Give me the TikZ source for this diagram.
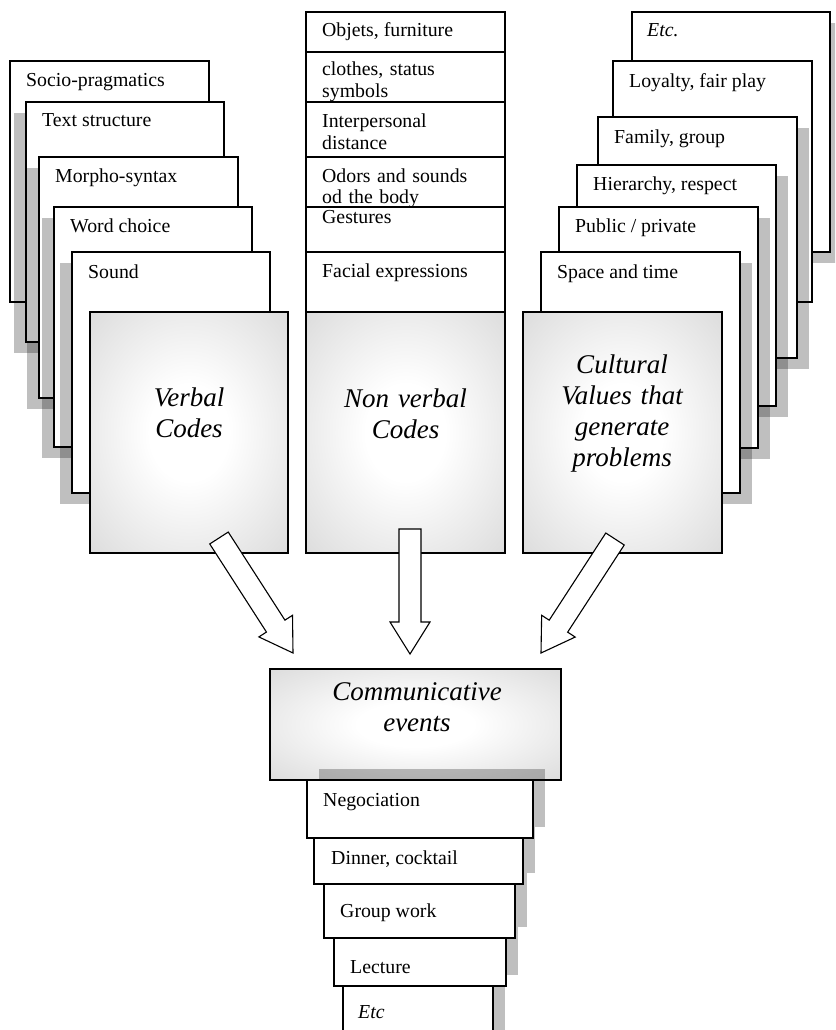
\documentclass[tikz,border=0pt]{standalone}
\usepackage{fontspec}
\setmainfont{Liberation Serif}
\usetikzlibrary{calc,shadows}
\pgfdeclareradialshading{boxglow}{\pgfpoint{0bp}{0bp}}{color(0bp)=(white); color(10bp)=(white); color(40bp)=(black!16); color(50bp)=(black!16)}
\newcommand\mylbl{\fontsize{19.8pt}{21.5pt}\selectfont}
\newcommand\mybig{\fontsize{27pt}{31pt}\selectfont\itshape}
\tikzset{
  sbox/.style={draw, fill=white, line width=1.1pt, inner sep=0pt, outer sep=0pt, anchor=north west},
  glowbox/.style={draw, line width=1.1pt, shading=boxglow, inner sep=0pt, outer sep=0pt, anchor=north west},
  shl/.style={drop shadow={shadow xshift=-12pt, shadow yshift=-11pt, fill=black, opacity=0.25}},
  shr/.style={drop shadow={shadow xshift=12pt, shadow yshift=-11pt, fill=black, opacity=0.25}},
  shu/.style={drop shadow={shadow xshift=12pt, shadow yshift=11pt, fill=black, opacity=0.25}},
  lbl/.style={anchor=base west, inner sep=0pt, font=\mylbl},
  lbl2/.style={anchor=base west, inner sep=0pt, font=\mylbl, text width=185pt, align=left},
  bigl/.style={anchor=base, inner sep=0pt, font=\mybig, text width=260pt, align=center},
  arrowbox/.style={draw, fill=white, line width=1.1pt, line join=miter}
}
\newcommand\blockarrow[2]{%
  \path ($(#2)!32pt!(#1)$) coordinate (#1hb);
  \draw[arrowbox] ($(#1)!11pt!90:(#2)$) -- ($(#1hb)!11pt!90:(#2)$) -- ($(#1hb)!20pt!90:(#2)$) -- (#2) -- ($(#1hb)!20pt!-90:(#2)$) -- ($(#1hb)!11pt!-90:(#2)$) -- ($(#1)!11pt!-90:(#2)$) -- cycle;%
}
\begin{document}
\begin{tikzpicture}[x=1pt,y=-1pt]
\useasboundingbox (0,0) rectangle (835,1030);
\clip (0,0) rectangle (835,1030);

% ---------- left stack ----------
\node[sbox, minimum width=199pt, minimum height=241pt] (L1) at (10,61) {};
\node[lbl] (L1t) at ([xshift=16pt,yshift=-26pt]L1.north west) {Socio-pragmatics};
\node[sbox, shl, minimum width=198pt, minimum height=240pt] (L2) at (26,102) {};
\node[lbl] (L2t) at ([xshift=16pt,yshift=-25pt]L2.north west) {Text structure};
\node[sbox, shl, minimum width=199pt, minimum height=241pt] (L3) at (39,157) {};
\node[lbl] (L3t) at ([xshift=16pt,yshift=-25pt]L3.north west) {Morpho-syntax};
\node[sbox, shl, minimum width=198pt, minimum height=240pt] (L4) at (54,207) {};
\node[lbl] (L4t) at ([xshift=16pt,yshift=-25pt]L4.north west) {Word choice};
\node[sbox, shl, minimum width=198pt, minimum height=241pt] (L5) at (72,252) {};
\node[lbl] (L5t) at ([xshift=16pt,yshift=-26pt]L5.north west) {Sound};
\node[glowbox, minimum width=198pt, minimum height=241pt] (VC) at (90,312) {};
\node[bigl] (VCt) at (189,406) {Verbal\\Codes};

% ---------- middle stack ----------
\node[sbox, minimum width=199pt, minimum height=60pt] (M1) at (306,12) {};
\node[lbl] (M1t) at ([xshift=16pt,yshift=-25pt]M1.north west) {Objets, furniture};
\node[sbox, minimum width=199pt, minimum height=70pt] (M2) at (306,52) {};
\node[lbl2] (M2t) at ([xshift=16pt,yshift=-24pt]M2.north west) {clothes, status\\symbols};
\node[sbox, minimum width=199pt, minimum height=70pt] (M3) at (306,102) {};
\node[lbl2] (M3t) at ([xshift=16pt,yshift=-26pt]M3.north west) {Interpersonal\\distance};
\node[sbox, minimum width=199pt, minimum height=70pt] (M4) at (306,157) {};
\node[lbl2] (M4t) at ([xshift=16pt,yshift=-25pt]M4.north west) {Odors and sounds\\od the body};
\node[sbox, minimum width=199pt, minimum height=70pt] (M5) at (306,207) {};
\node[lbl] (M5t) at ([xshift=16pt,yshift=-16pt]M5.north west) {Gestures};
\node[sbox, minimum width=199pt, minimum height=80pt] (M6) at (306,252) {};
\node[lbl] (M6t) at ([xshift=16pt,yshift=-25pt]M6.north west) {Facial expressions};
\node[glowbox, minimum width=199pt, minimum height=241pt] (NV) at (306,312) {};
\node[bigl] (NVt) at (405.5,407) {Non verbal\\Codes};

% ---------- right stack ----------
\node[sbox, shr, minimum width=198pt, minimum height=240pt] (R1) at (632,12) {};
\node[lbl, font=\mylbl\itshape] (R1t) at ([xshift=15pt,yshift=-25pt]R1.north west) {Etc.};
\node[sbox, minimum width=199pt, minimum height=241pt] (R2) at (613,61) {};
\node[lbl] (R2t) at ([xshift=16pt,yshift=-27pt]R2.north west) {Loyalty, fair play};
\node[sbox, shr, minimum width=199pt, minimum height=241pt] (R3) at (598,117) {};
\node[lbl] (R3t) at ([xshift=16pt,yshift=-26pt]R3.north west) {Family, group};
\node[sbox, shr, minimum width=199pt, minimum height=241pt] (R4) at (577,165) {};
\node[lbl] (R4t) at ([xshift=16pt,yshift=-25pt]R4.north west) {Hierarchy, respect};
\node[sbox, shr, minimum width=199pt, minimum height=241pt] (R5) at (559,207) {};
\node[lbl] (R5t) at ([xshift=16pt,yshift=-25pt]R5.north west) {Public / private};
\node[sbox, shr, minimum width=199pt, minimum height=241pt] (R6) at (541,252) {};
\node[lbl] (R6t) at ([xshift=16pt,yshift=-26pt]R6.north west) {Space and time};
\node[glowbox, minimum width=199pt, minimum height=241pt] (CV) at (523,312) {};
\node[bigl] (CVt) at (622,373) {Cultural\\Values that\\generate\\problems};

% ---------- bottom stack ----------
\node[glowbox, minimum width=291pt, minimum height=111pt] (CE) at (270,669) {};
\node[bigl] (CEt) at (417,700) {Communicative\\events};
\node[sbox, shu, minimum width=150pt, minimum height=60pt] (B5) at (343,986) {};
\node[lbl, font=\mylbl\itshape] (B5t) at ([xshift=15pt,yshift=-32pt]B5.north west) {Etc};
\node[sbox, shu, minimum width=172pt, minimum height=48pt] (B4) at (334,938) {};
\node[lbl] (B4t) at ([xshift=16pt,yshift=-35pt]B4.north west) {Lecture};
\node[sbox, shu, minimum width=191pt, minimum height=54pt] (B3) at (324,884) {};
\node[lbl] (B3t) at ([xshift=16pt,yshift=-33pt]B3.north west) {Group work};
\node[sbox, shu, minimum width=209pt, minimum height=46pt] (B2) at (314,838) {};
\node[lbl] (B2t) at ([xshift=17pt,yshift=-26pt]B2.north west) {Dinner, cocktail};
\node[sbox, shu, minimum width=226pt, minimum height=58pt] (B1) at (307,780) {};
\node[lbl] (B1t) at ([xshift=16pt,yshift=-26pt]B1.north west) {Negociation};

% ---------- block arrows ----------
\coordinate (aL) at (219,538);
\coordinate (aLtip) at (293,653);
\coordinate (aM) at (410,529);
\coordinate (aMtip) at (410,654);
\coordinate (aR) at (615,539);
\coordinate (aRtip) at (541,653);
\blockarrow{aL}{aLtip}
\blockarrow{aM}{aMtip}
\blockarrow{aR}{aRtip}
\end{tikzpicture}
\end{document}
